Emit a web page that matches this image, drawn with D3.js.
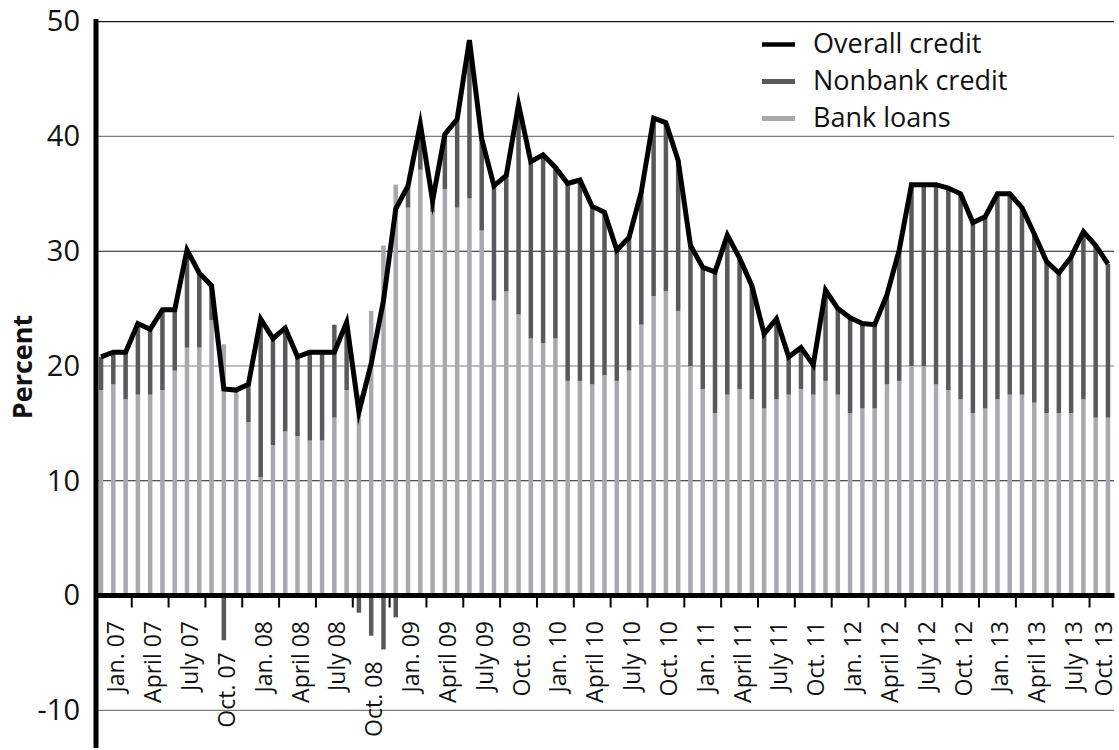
<!DOCTYPE html>
<html><head><meta charset="utf-8">
<script src="https://cdn.jsdelivr.net/npm/d3@7"></script>
<style>
body{margin:0;background:#fff}
svg{display:block}
text{font-family:"Open Sans",sans-serif;fill:#111}
</style>
</head><body>
<svg id="chart" width="1119" height="750"></svg>
<script>
// Monthly categories: Jan 2007 .. Nov 2013
const months = d3.timeMonths(new Date(2007,0,1), new Date(2013,11,1));

const overallCredit = [
 20.8,21.2,21.2,23.7,23.2,24.9,24.9,30.1,28.1,27.0,18.0,17.9,
 18.4,24.1,22.4,23.3,20.8,21.2,21.2,21.2,23.8,16.0,20.2,25.7,
 33.7,35.7,41.1,34.4,40.2,41.5,48.4,39.8,35.7,36.6,42.8,37.8,
 38.4,37.3,35.9,36.2,33.9,33.4,30.1,31.2,35.2,41.6,41.2,37.9,
 30.5,28.6,28.2,31.4,29.4,27.0,22.8,24.1,20.8,21.6,20.1,26.6,
 25.0,24.2,23.7,23.6,26.2,30.1,35.8,35.8,35.8,35.5,35.0,32.5,
 33.0,35.0,35.0,33.8,31.5,29.1,28.1,29.5,31.7,30.5,28.9
];
const bankLoans = [
 17.9,18.4,17.1,17.5,17.5,17.9,19.6,21.6,21.6,24.0,21.9,17.9,
 15.1,10.3,13.1,14.3,13.9,13.5,13.5,15.5,17.9,17.5,24.8,30.5,
 35.8,33.8,37.1,33.4,35.4,33.8,34.6,31.8,25.7,26.5,24.5,22.4,
 22.0,22.4,18.7,18.7,18.4,19.2,18.7,19.6,23.6,26.1,26.5,24.8,
 20.0,18.0,15.9,17.5,18.0,17.1,16.3,17.1,17.5,18.0,17.5,18.7,
 17.5,15.9,16.3,16.3,18.4,18.7,20.0,20.0,18.4,17.9,17.1,15.9,
 16.3,17.1,17.5,17.5,16.8,15.9,15.9,15.9,17.1,15.5,15.5
];
const nonbankCredit = [
 2.9,2.8,4.1,6.2,5.7,7.0,5.3,8.5,6.5,3.0,-3.9,0.0,
 3.3,13.8,9.3,9.0,6.9,7.7,7.7,8.1,5.9,-1.5,-3.5,-4.7,
 -1.9,1.9,4.0,1.0,4.8,7.7,13.8,8.0,10.0,10.1,18.3,15.4,
 16.4,14.9,17.2,17.5,15.5,14.2,11.4,11.6,11.6,15.5,14.7,13.1,
 10.5,10.6,12.3,13.9,11.4,9.9,6.5,7.0,3.3,3.6,2.6,7.9,
 7.5,8.3,7.4,7.3,7.8,11.4,15.8,15.8,17.4,17.6,17.9,16.6,
 16.7,17.9,17.5,16.3,14.7,13.2,12.2,13.6,14.6,15.0,13.4
];
const quarterLabels = [
 "Jan. 07","April 07","July 07","Oct. 07",
 "Jan. 08","April 08","July 08","Oct. 08",
 "Jan. 09","April 09","July 09","Oct. 09",
 "Jan. 10","April 10","July 10","Oct. 10",
 "Jan. 11","April 11","July 11","Oct. 11",
 "Jan. 12","April 12","July 12","Oct. 12",
 "Jan. 13","April 13","July 13","Oct. 13"
];
const yTicks = [-10,0,10,20,30,40,50];
const legendItems = ["Overall credit","Nonbank credit","Bank loans"];

const COL_BANK = "#a7a9ac", COL_NONBANK = "#58595b", COL_LINE = "#000";

const svg = d3.select("#chart");
svg.append("rect").attr("width",1119).attr("height",750).attr("fill","#fff");

const x = d3.scaleBand().domain(d3.range(months.length))
  .range([94.9, 1114.1]).paddingInner(0.634).paddingOuter(0.317);
const cx = i => x(i) + x.bandwidth()/2;
const step = x.step();
const y = d3.scaleLinear().domain([-13.2, 50]).range([747, 21.7]);

// gridlines
const gridVals = yTicks.filter(v => v !== 0);
svg.append("g").selectAll("line").data(gridVals).join("line")
  .attr("x1", 96).attr("x2", 1114)
  .attr("y1", d => y(d)).attr("y2", d => y(d))
  .attr("stroke", d => (d===50||d===30||d===10) ? "#1a1a1a" : "#7d7d7d")
  .attr("stroke-width", 1.2);

// bars
const bars = svg.append("g");
bars.selectAll("rect.bank").data(bankLoans).join("rect")
  .attr("class","bank")
  .attr("x", (d,i) => x(i)).attr("width", x.bandwidth())
  .attr("y", d => Math.min(y(d), y(0))).attr("height", d => Math.abs(y(d)-y(0)))
  .attr("fill", COL_BANK);
bars.selectAll("rect.nonbank").data(nonbankCredit).join("rect")
  .attr("class","nonbank")
  .attr("x", (d,i) => x(i)).attr("width", x.bandwidth())
  .attr("y", (d,i) => d >= 0 ? y(bankLoans[i] + d) : y(0))
  .attr("height", (d,i) => d >= 0 ? y(bankLoans[i]) - y(bankLoans[i] + d) : y(d) - y(0))
  .attr("fill", COL_NONBANK);

// overall credit line
svg.append("path")
  .datum(overallCredit)
  .attr("fill","none").attr("stroke",COL_LINE).attr("stroke-width",5)
  .attr("stroke-linejoin","miter").attr("stroke-miterlimit",6)
  .attr("d", d3.line().x((d,i) => cx(i)).y(d => y(d)));

// x axis line
svg.append("line").attr("x1",94).attr("x2",1114.5)
  .attr("y1",y(0)).attr("y2",y(0)).attr("stroke","#000").attr("stroke-width",5);

// quarter ticks
const tickIdx = d3.range(1, quarterLabels.length).map(k => 3*k);
svg.append("g").selectAll("line").data(tickIdx).join("line")
  .attr("x1", i => cx(i) - step/2).attr("x2", i => cx(i) - step/2)
  .attr("y1", y(0)).attr("y2", y(0) + 12)
  .attr("stroke","#000").attr("stroke-width",2);

// quarter labels (pushed below negative bars where they overlap)
svg.append("g").selectAll("text").data(quarterLabels).join("text")
  .attr("transform", (d,k) => {
    const mid = Math.min(3*k + 1, months.length - 1);
    let lx = Math.min(cx(mid) + 2, 1103);
    let minV = 0;
    for (let i = 0; i < months.length; i++) {
      if (Math.abs(cx(i) - lx) < 11.3) minV = Math.min(minV, nonbankCredit[i]);
    }
    const ly = Math.max(621, y(minV) + 12);
    return `translate(${lx},${ly}) rotate(-90)`;
  })
  .attr("text-anchor","end").attr("dominant-baseline","central")
  .style("font-size","23px")
  .text(d => d);

// y axis
const yAxis = d3.axisLeft(y).tickValues(yTicks).tickSize(0).tickPadding(16)
  .tickFormat(d => String(d));
const gy = svg.append("g").attr("transform","translate(96,0)").call(yAxis);
gy.select(".domain").remove();
gy.selectAll("text").style("font-size","29px").style("font-family","'Open Sans',sans-serif").attr("fill","#111");
svg.append("line").attr("x1",96).attr("x2",96).attr("y1",19).attr("y2",748)
  .attr("stroke","#000").attr("stroke-width",5);

// y title
svg.append("text").attr("transform","translate(21,367) rotate(-90)")
  .attr("text-anchor","middle").attr("dominant-baseline","central")
  .style("font-size","27px").style("font-weight","700").text("Percent");

// legend
const lg = svg.append("g");
const base = [53, 90, 127];
lg.append("line").attr("x1",762).attr("x2",795).attr("y1",base[0]-8.5).attr("y2",base[0]-8.5)
  .attr("stroke",COL_LINE).attr("stroke-width",4.5);
lg.append("rect").attr("x",762).attr("width",33).attr("y",base[1]-11).attr("height",5).attr("fill",COL_NONBANK);
lg.append("rect").attr("x",762).attr("width",33).attr("y",base[2]-11).attr("height",5).attr("fill",COL_BANK);
lg.selectAll("text").data(legendItems).join("text")
  .attr("x",813).attr("y",(d,i) => base[i])
  .style("font-size","27px").text(d => d);
</script>
</body></html>
